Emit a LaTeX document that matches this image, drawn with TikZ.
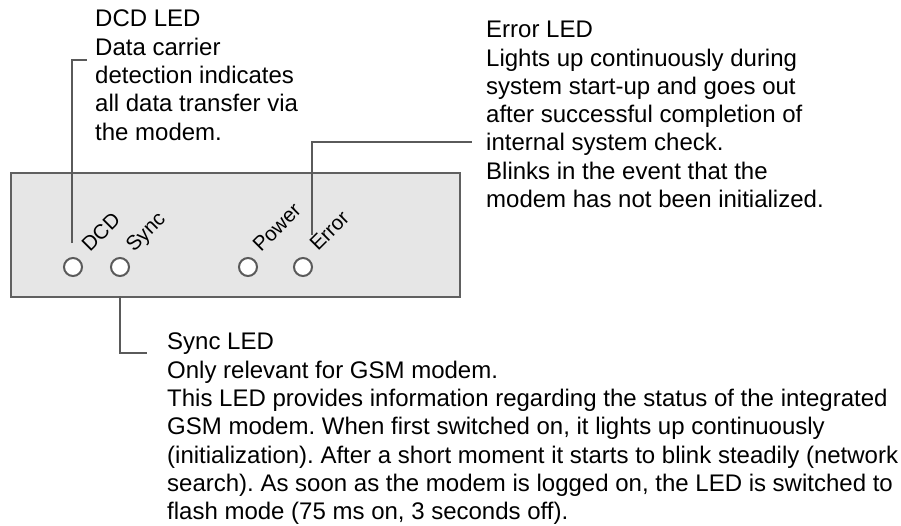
\documentclass[tikz,border=0pt]{standalone}
\usepackage{fontspec}
\setmainfont{Liberation Sans}
\frenchspacing
\definecolor{linegray}{HTML}{5A5A5A}
\definecolor{boxgray}{HTML}{606060}
\definecolor{boxfill}{HTML}{E6E6E6}
\begin{document}
\begin{tikzpicture}[x=1pt,y=-1pt,
  ln/.style={draw=linegray, line width=1.8pt},
  led/.style={circle, draw=linegray, fill=white, line width=2pt, minimum size=18pt, inner sep=0pt},
  lab/.style={font=\fontsize{20.5}{24}\selectfont, rotate=45, anchor=base west, inner sep=0pt},
  desc/.style={font=\fontsize{24}{28.3}\selectfont, align=left, anchor=north west, inner sep=0pt}]
\useasboundingbox (0,0) rectangle (901,525);
% panel
\node[draw=boxgray, fill=boxfill, line width=2pt, minimum width=449pt, minimum height=124pt,
      inner sep=0pt, anchor=north west] (panel) at (10,172) {};
% LEDs
\node[led] (dcdled) at (73,267) {};
\node[led] (syncled) at (120,267) {};
\node[led] (powled) at (248,267) {};
\node[led] (errled) at (303,267) {};
% LED labels
\node[lab] (dcdlab) at (90,253) {DCD};
\node[lab] (synclab) at (134,253) {Sync};
\node[lab] (powlab) at (261,253) {Power};
\node[lab] (errlab) at (318,252) {Error};
% descriptions
\node[desc] (dcdtxt) at (95,10) {DCD LED\\Data carrier\\detection indicates\\all data transfer via\\the modem.};
\node[desc] (errtxt) at (486,21) {Error LED\\Lights up continuously during\\system start-up and goes out\\after successful completion of\\internal system check.\\Blinks in the event that the\\modem has not been initialized.};
\node[desc] (synctxt) at (167,333) {Sync LED\\Only relevant for GSM modem.\\This LED provides information regarding the status of the integrated\\GSM modem. When first switched on, it lights up continuously\\(initialization). After a short moment it starts to blink steadily (network\\search). As soon as the modem is logged on, the LED is switched to\\flash mode (75 ms on, 3 seconds off).};
% connectors
\coordinate (dcdtick) at (87,60);
\coordinate (dcdbot) at (72,243);
\draw[ln] (dcdbot) |- (dcdtick);
\coordinate (errbot) at (312,235);
\coordinate (errend) at (472,142);
\draw[ln] (errbot) |- (errend);
\coordinate (synctop) at (120,296);
\coordinate (syncend) at (147,353);
\draw[ln] (synctop) |- (syncend);
\end{tikzpicture}
\end{document}
